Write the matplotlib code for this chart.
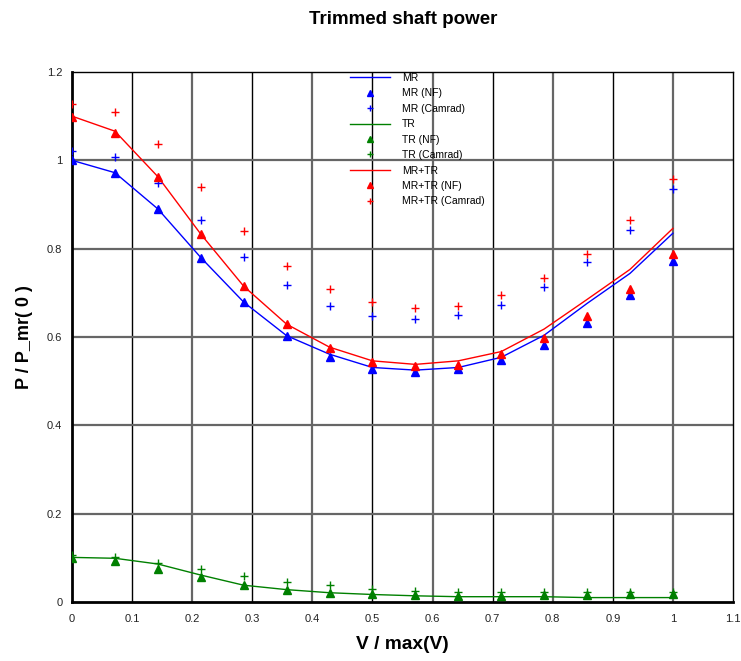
import matplotlib
matplotlib.use("Agg")
import matplotlib.pyplot as plt
import numpy as np

plt.rcParams['font.family'] = ['Liberation Sans', 'DejaVu Sans']

# Normalised forward speed V / max(V)
v = [0, 1/14, 2/14, 3/14, 4/14, 5/14, 6/14, 7/14, 8/14, 9/14, 10/14, 11/14, 12/14, 13/14, 1.0]

# Main rotor
mr_model = [1.000, 0.972, 0.890, 0.780, 0.679, 0.603, 0.561, 0.531, 0.525, 0.531, 0.554, 0.604, 0.676, 0.744, 0.835]
mr_nf = [1.000, 0.971, 0.889, 0.780, 0.679, 0.603, 0.554, 0.527, 0.520, 0.527, 0.548, 0.583, 0.632, 0.695, 0.773]
mr_camrad = [1.022, 1.008, 0.948, 0.865, 0.782, 0.717, 0.671, 0.647, 0.640, 0.649, 0.673, 0.713, 0.770, 0.842, 0.935]

# Tail rotor
tr_model = [0.101, 0.099, 0.086, 0.061, 0.038, 0.028, 0.021, 0.017, 0.014, 0.012, 0.012, 0.012, 0.010, 0.010, 0.010]
tr_nf = [0.099, 0.092, 0.075, 0.056, 0.039, 0.027, 0.021, 0.017, 0.015, 0.014, 0.014, 0.015, 0.015, 0.017, 0.017]
tr_camrad = [0.106, 0.103, 0.089, 0.074, 0.059, 0.046, 0.038, 0.030, 0.026, 0.023, 0.023, 0.022, 0.022, 0.023, 0.023]

# Main rotor + tail rotor
tot_model = [1.100, 1.066, 0.963, 0.833, 0.715, 0.629, 0.577, 0.546, 0.538, 0.546, 0.567, 0.618, 0.685, 0.753, 0.846]
tot_nf = [1.099, 1.063, 0.963, 0.833, 0.715, 0.629, 0.576, 0.544, 0.535, 0.537, 0.562, 0.597, 0.648, 0.709, 0.788]
tot_camrad = [1.127, 1.109, 1.037, 0.939, 0.841, 0.761, 0.708, 0.679, 0.666, 0.671, 0.695, 0.733, 0.789, 0.864, 0.957]

x_ticks = [0, 0.1, 0.2, 0.3, 0.4, 0.5, 0.6, 0.7, 0.8, 0.9, 1.0, 1.1]
x_tick_labels = ["0", "0.1", "0.2", "0.3", "0.4", "0.5", "0.6", "0.7", "0.8", "0.9", "1", "1.1"]
y_ticks = [0, 0.2, 0.4, 0.6, 0.8, 1.0, 1.2]
y_tick_labels = ["0", "0.2", "0.4", "0.6", "0.8", "1", "1.2"]

fig = plt.figure(figsize=(7.41, 6.61), dpi=100)
ax = fig.add_axes([72/741, 1 - 602/661, (733 - 72)/741, (602 - 72)/661])

# Grid: heavy grey lines at every 0.2, thin black lines at the odd tenths on x
major_kw = dict(color="#666666", lw=1.6, zorder=0.5)
minor_kw = dict(color="black", lw=1.0, zorder=0.5)
for xv in [0.1, 0.3, 0.5, 0.7, 0.9]:
    ax.axvline(xv, **minor_kw)
for xv in [0.2, 0.4, 0.6, 0.8, 1.0]:
    ax.axvline(xv, **major_kw)
for yv in [0.2, 0.4, 0.6, 0.8, 1.0]:
    ax.axhline(yv, **major_kw)

series = [
    ("MR", mr_model, mr_nf, mr_camrad, "#0000ff"),
    ("TR", tr_model, tr_nf, tr_camrad, "#008000"),
    ("MR+TR", tot_model, tot_nf, tot_camrad, "#ff0000"),
]
for name, model, nf, cam, col in series:
    ax.plot(v, model, "-", color=col, lw=1.0, label=name, zorder=3)
    ax.plot(v, nf, linestyle="none", marker="^", ms=6, color=col, mec=col,
            label=f"{name} (NF)", zorder=4)
    ax.plot(v, cam, linestyle="none", marker="+", ms=6, mew=1.0, color=col,
            label=f"{name} (Camrad)", zorder=4)

ax.set_xlim(0, 1.1)
ax.set_ylim(0, 1.2)
ax.set_xticks(x_ticks)
ax.set_xticklabels(x_tick_labels)
ax.set_yticks(y_ticks)
ax.set_yticklabels(y_tick_labels)
ax.tick_params(axis="both", length=0, labelsize=8, colors="#222222")
ax.tick_params(axis="x", pad=9)
ax.tick_params(axis="y", pad=7)

for side in ["top", "right"]:
    ax.spines[side].set_linewidth(1.0)
for side in ["left", "bottom"]:
    ax.spines[side].set_linewidth(2.0)

ax.set_xlabel("V / max(V)", fontsize=13.8, fontweight="bold", labelpad=8)
ax.set_ylabel("P / P_mr( 0 )", fontsize=13, fontweight="bold", labelpad=10)
fig.text(403/741, 1 - 19/661, "Trimmed shaft power", ha="center", va="center",
         fontsize=13.5, fontweight="bold")

leg = ax.legend(loc="upper left", bbox_to_anchor=(350/741, 1 - 73/661),
                bbox_transform=fig.transFigure, frameon=False, fontsize=7.5,
                numpoints=1, markerscale=0.8, handlelength=3.8, handletextpad=1.2,
                labelspacing=0.52, borderpad=0, borderaxespad=0)

fig.savefig("out.png", dpi=100)
